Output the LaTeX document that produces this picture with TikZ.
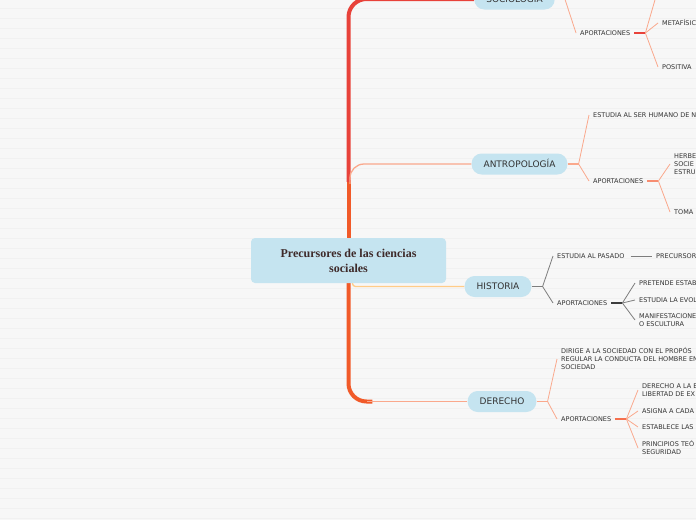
\documentclass[tikz,border=0pt]{standalone}
\usepackage{fontspec}
\setsansfont{DejaVu Sans}
\newfontfamily\rootfont{Liberation Serif}
\usepackage{tikz}
\usetikzlibrary{positioning, calc}
\definecolor{mmback}{RGB}{247,247,247}
\definecolor{mmstripe}{RGB}{241,241,241}
\definecolor{mmpill}{RGB}{197,228,240}
\definecolor{mmink}{RGB}{51,51,51}
\definecolor{mmroot}{RGB}{62,42,42}
\definecolor{mmred}{RGB}{232,66,58}
\definecolor{mmorange}{RGB}{241,90,41}
\definecolor{mmsalmon}{RGB}{250,168,140}
\definecolor{mmcoral}{RGB}{245,112,78}
\definecolor{mmgold}{RGB}{255,204,136}
\definecolor{mmgrey}{RGB}{125,125,125}
\definecolor{mmdark}{RGB}{60,60,60}
\newcommand{\leaffont}{\sffamily\fontsize{6.5}{8}\selectfont}
\pgfdeclarelayer{bg}
\pgfsetlayers{bg,main}

\begin{document}
\begin{tikzpicture}[x=1pt, y=-1pt,
  root/.style={rectangle, rounded corners=4pt, fill=mmpill, minimum width=195pt, minimum height=45pt, align=center, text=mmroot, font=\rootfont\bfseries\fontsize{12}{15}\selectfont},
  topic/.style={rectangle, rounded corners=10pt, fill=mmpill, inner xsep=12pt, minimum height=21pt, text height=6.6pt, text depth=0pt, text=mmink, font=\sffamily\fontsize{9}{10}\selectfont},
  leafbase/.style={inner xsep=4pt, inner ysep=1pt, anchor=west, align=left, text=mmink, font=\leaffont},
  leaf/.style={leafbase, text height=4.7pt, text depth=0pt},
  note/.style={leafbase},
  trunk/.style={line width=4pt},
  branch/.style={line width=1.3pt, draw=mmsalmon},
  twig/.style={line width=0.8pt, draw=mmsalmon},
  stub/.style={line width=1.8pt}
]
\useasboundingbox (0,0) rectangle (696,520);
\begin{pgfonlayer}{bg}
\fill[mmback] (0,0) rectangle (696,520);
\foreach \y in {8,18,...,518}
  \draw[mmstripe, line width=1pt] (0,\y) -- (696,\y);
\end{pgfonlayer}

% central topic and main branches
\node[root] (root) at (348.5,260.5) {Precursores de las ciencias\\sociales};
\node[topic] (soc) at (514.5,-1) {SOCIOLOGÍA};
\node[topic] (antro) at (519.5,164) {ANTROPOLOGÍA};
\node[topic] (his) at (498,286.5) {HISTORIA};
\node[topic] (der) at (502,401.5) {DERECHO};

% sociologia
\node[leaf] (socap) at (576,33) {APORTACIONES};
\node[leaf] (metaf) at (658,23) {METAFÍSICA};
\node[leaf] (posit) at (658,67) {POSITIVA};

% antropologia
\node[leaf] (antest) at (589,115) {ESTUDIA AL SER HUMANO DE N};
\node[leaf] (antap) at (589,181) {APORTACIONES};
\node[note] (herbe) at (670,164) {HERBE\\SOCIE\\ESTRU};
\node[leaf] (toma) at (670,212) {TOMA};

% historia
\node[leaf] (pasado) at (553,256) {ESTUDIA AL PASADO};
\node[leaf] (precur) at (652,256) {PRECURSOR};
\node[leaf] (hisap) at (553,303) {APORTACIONES};
\node[leaf] (preten) at (635,283) {PRETENDE ESTAB};
\node[leaf] (evol) at (635,300) {ESTUDIA LA EVOL};
\node[note] (manif) at (635,320) {MANIFESTACIONE\\O ESCULTURA};

% derecho
\node[note] (dirige) at (557,359) {DIRIGE A LA SOCIEDAD CON EL PROPÓS\\REGULAR LA CONDUCTA DEL HOMBRE EN\\SOCIEDAD};
\node[leaf] (derap) at (557,419) {APORTACIONES};
\node[note] (libert) at (638,390) {DERECHO A LA E\\LIBERTAD DE EX};
\node[leaf] (asigna) at (638,411) {ASIGNA A CADA};
\node[leaf] (establ) at (638,427) {ESTABLECE LAS};
\node[note] (princ) at (638,448) {PRINCIPIOS TEÓ\\SEGURIDAD};

\coordinate (split) at ($(root.north)+(0,-58)$);
\coordinate (teo) at (659,-14);

\begin{pgfonlayer}{bg}
% trunk
\draw[trunk, mmorange] (root.north) -- (split);
\draw[trunk, mmred, rounded corners=18pt] ($(split)+(0,2)$) |- (soc.west);
\draw[trunk, mmorange, rounded corners=18pt] (root.south) |- ($(der.west)+(-95,0)$);
\draw[branch] ($(der.west)+(-100,0)$) -- (der.west);
\draw[branch, rounded corners=14pt] ($(split)+(1.5,4)$) |- (antro.west);
\draw[branch, mmgold, rounded corners=3pt] ($(root.south)+(4,0)$) |- (his.west);

% sociologia
\draw[stub, mmsalmon] (soc.east) -- ++(10,0) coordinate (fsoc);
\draw[twig] (fsoc) -- (socap.west);
\draw[stub, mmred] (socap.east) -- ++(11,0) coordinate (fsocap);
\draw[twig] (fsocap) -- (teo);
\draw[twig] (fsocap) -- (metaf.west);
\draw[twig] (fsocap) -- (posit.west);

% antropologia
\draw[stub, mmsalmon] (antro.east) -- ++(11,0) coordinate (fant);
\draw[twig] (fant) -- (antest.west);
\draw[twig] (fant) -- (antap.west);
\draw[stub, mmcoral!80] (antap.east) -- ++(11,0) coordinate (fantap);
\draw[twig] (fantap) -- (herbe.west);
\draw[twig] (fantap) -- (toma.west);

% historia
\draw[stub, mmgrey] (his.east) -- ++(11,0) coordinate (fhis);
\draw[twig, mmgrey] (fhis) -- (pasado.west);
\draw[twig, mmgrey] (fhis) -- (hisap.west);
\draw[twig, mmgrey, shorten <=2pt] (pasado.east) -- (precur.west);
\draw[stub, mmdark] (hisap.east) -- ++(11,0) coordinate (fhisap);
\draw[twig, mmgrey] (fhisap) -- (preten.west);
\draw[twig, mmgrey] (fhisap) -- (evol.west);
\draw[twig, mmgrey] (fhisap) -- (manif.west);

% derecho
\draw[stub, mmsalmon] (der.east) -- ++(11,0) coordinate (fder);
\draw[twig] (fder) -- (dirige.west);
\draw[twig] (fder) -- (derap.west);
\draw[stub, mmcoral] (derap.east) -- ++(11,0) coordinate (fderap);
\draw[twig] (fderap) -- (libert.west);
\draw[twig] (fderap) -- (asigna.west);
\draw[twig] (fderap) -- (establ.west);
\draw[twig] (fderap) -- (princ.west);
\end{pgfonlayer}
\end{tikzpicture}
\end{document}
